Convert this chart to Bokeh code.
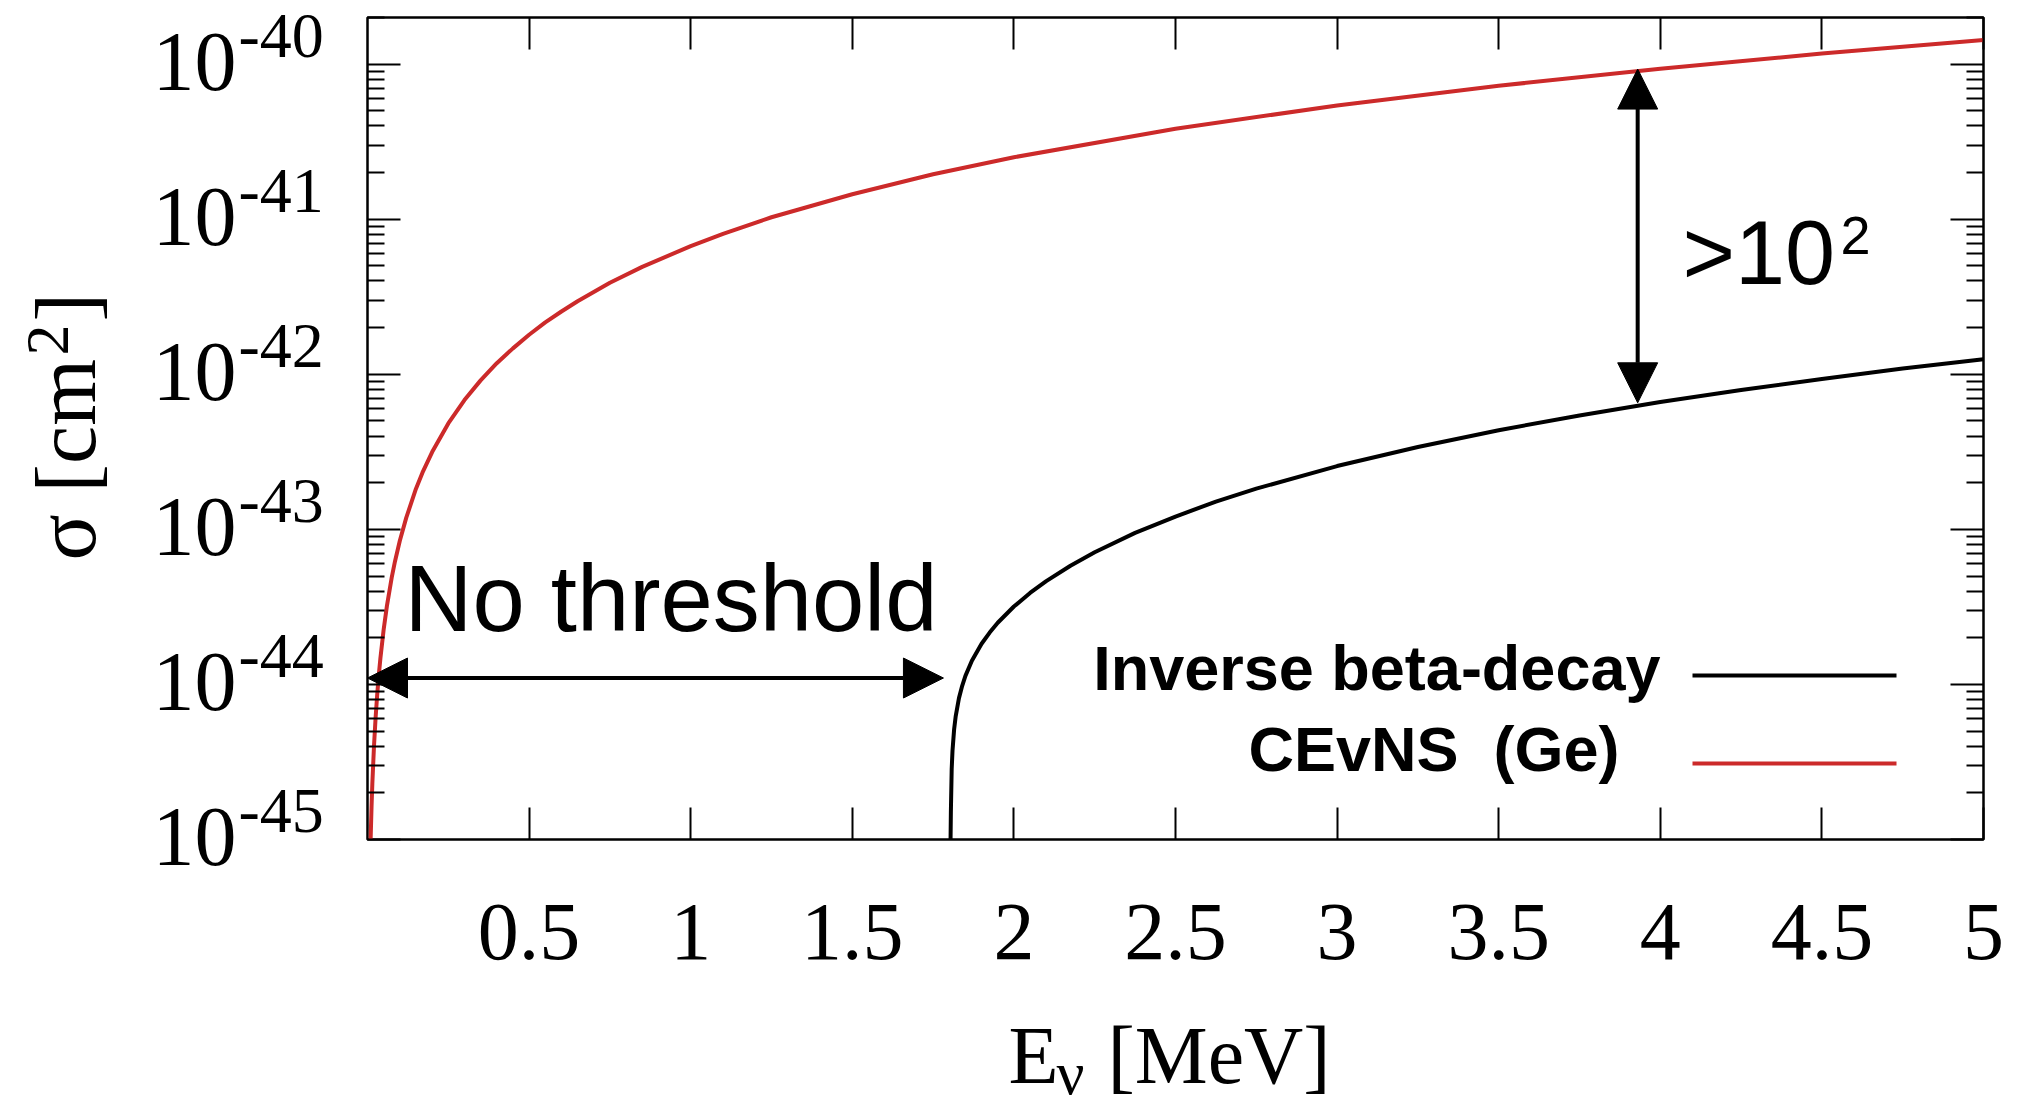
import math

from bokeh.plotting import figure
from bokeh.layouts import row, column
from bokeh.models import (Range1d, FixedTicker, LinearAxis, LogAxis, Label,
                          Arrow, NormalHead, CustomJSTickFormatter)
from bokeh.embed import file_html
from bokeh.resources import INLINE

# ---------------------------------------------------------------- data
# Coherent elastic neutrino-nucleus scattering on germanium
energy_cevns = [0.008, 0.01, 0.0125, 0.015, 0.02, 0.025, 0.03, 0.035, 0.04,
                0.05, 0.06, 0.075, 0.085, 0.1, 0.12, 0.15, 0.17, 0.2, 0.25,
                0.3, 0.35, 0.4, 0.45, 0.5, 0.55, 0.6, 0.65, 0.75, 0.85, 1.0,
                1.1, 1.25, 1.5, 1.75, 2.0, 2.5, 3.0, 3.5, 4.0, 4.5, 5.0]
sigma_cevns = [7.0e-46, 1.06e-45, 1.63e-45, 2.3e-45, 3.97e-45, 6.07e-45,
               8.59e-45, 1.15e-44, 1.48e-44, 2.26e-44, 3.2e-44, 4.9e-44,
               6.21e-44, 8.45e-44, 1.19e-43, 1.83e-43, 2.32e-43, 3.15e-43,
               4.82e-43, 6.82e-43, 9.14e-43, 1.18e-42, 1.47e-42, 1.80e-42,
               2.16e-42, 2.54e-42, 2.96e-42, 3.89e-42, 4.93e-42, 6.71e-42,
               8.05e-42, 1.03e-41, 1.45e-41, 1.95e-41, 2.51e-41, 3.83e-41,
               5.42e-41, 7.26e-41, 9.35e-41, 1.17e-40, 1.43e-40]

# Inverse beta decay (threshold near 1.8 MeV)
energy_ibd = [1.8035, 1.805, 1.8075, 1.81, 1.815, 1.82, 1.83, 1.84, 1.85,
              1.87, 1.9, 1.925, 1.95, 2.0, 2.05, 2.1, 2.175, 2.25, 2.375,
              2.5, 2.625, 2.75, 3.0, 3.25, 3.5, 3.75, 4.0, 4.25, 4.5, 4.75,
              5.0]
sigma_ibd = [8.0e-46, 1.51e-45, 2.84e-45, 3.73e-45, 5.12e-45, 6.25e-45,
             8.16e-45, 9.8e-45, 1.136e-44, 1.42e-44, 1.83e-44, 2.16e-44,
             2.5e-44, 3.18e-44, 3.89e-44, 4.64e-44, 5.83e-44, 7.12e-44,
             9.49e-44, 1.21e-43, 1.51e-43, 1.83e-43, 2.56e-43, 3.40e-43,
             4.36e-43, 5.43e-43, 6.62e-43, 7.92e-43, 9.34e-43, 1.09e-42,
             1.25e-42]

# gap marked between the two curves
gap_energy = 3.93
gap_sigma_top = 9.3e-41
gap_sigma_bottom = 6.55e-43

# energy span with no threshold
threshold_arrow_energy = [0.0, 1.782]
threshold_arrow_sigma = 1.1e-44

x_ticks = [0.5, 1.0, 1.5, 2.0, 2.5, 3.0, 3.5, 4.0, 4.5, 5.0]
x_tick_labels = ["0.5", "1", "1.5", "2", "2.5", "3", "3.5", "4", "4.5", "5"]
y_ticks = [1e-40, 1e-41, 1e-42, 1e-43, 1e-44, 1e-45]
y_tick_exponents = ["-40", "-41", "-42", "-43", "-44", "-45"]

legend_names = ["Inverse beta-decay", "CEvNS \u00a0(Ge)"]

# ---------------------------------------------------------------- layout
W, H = 2018, 1110
SIDE_W = 364            # left strip: y tick labels and y title
MAIN_H = 1000           # upper row height; the x title strip sits below
LEFT, RIGHT, TOP, BOTTOM = 367, 1983, 17, 839   # plot frame on the page
X_MIN, X_MAX = 0.0, 5.0
Y_MIN, Y_MAX = 1e-45, 2e-40
LOG_LO, LOG_HI = math.log10(Y_MIN), math.log10(Y_MAX)
BASELINE_SHIFT = 0.36   # Label baseline sits this many em below its anchor

RED = "#cc2a2a"
SERIF = "Liberation Serif"
SANS = "Liberation Sans"
CURVE_W = 4


def data_x(px):
    return X_MIN + (px - LEFT) / (RIGHT - LEFT) * (X_MAX - X_MIN)


def data_y(py):
    return 10 ** (LOG_LO + (BOTTOM - py) / (BOTTOM - TOP) * (LOG_HI - LOG_LO))


def screen_y(v):
    return BOTTOM - (math.log10(v) - LOG_LO) / (LOG_HI - LOG_LO) * (BOTTOM - TOP)


def blank_canvas(fig):
    fig.background_fill_color = "white"
    fig.border_fill_color = "white"
    fig.outline_line_color = None
    fig.grid.visible = False


def free_frame(fig):
    # keep each figure's frame where its own borders put it
    if "frame_align" in fig.properties():
        fig.frame_align = False


# ---------------------------------------------------------------- main plot
p = figure(width=W - SIDE_W, height=MAIN_H,
           x_range=Range1d(X_MIN, X_MAX), y_range=Range1d(Y_MIN, Y_MAX),
           y_axis_type="log", output_backend="svg", toolbar_location=None,
           min_border_left=LEFT - SIDE_W, min_border_right=W - RIGHT,
           min_border_top=TOP, min_border_bottom=MAIN_H - BOTTOM)
p.background_fill_color = "white"
p.border_fill_color = "white"
p.outline_line_color = "black"
p.outline_line_width = 2.5
p.xgrid.visible = False
p.ygrid.visible = False
free_frame(p)

x_ticker = FixedTicker(ticks=x_ticks, minor_ticks=[])
y_minor = [m * 10.0 ** e for e in range(-46, -39) for m in range(2, 10)]
y_ticker = FixedTicker(ticks=y_ticks, minor_ticks=y_minor)

x_formatter = CustomJSTickFormatter(
    args=dict(tick_values=x_ticks, tick_texts=x_tick_labels),
    code="""
for (let i = 0; i < tick_values.length; i++) {
  if (Math.abs(tick_values[i] - tick) < 1e-9) return tick_texts[i];
}
return "";
""")
blank = CustomJSTickFormatter(code="return '';")


def style_axis(ax, ticker, major_in, minor_in):
    ax.ticker = ticker
    ax.axis_line_color = None
    ax.major_tick_in = major_in
    ax.major_tick_out = 0
    ax.minor_tick_in = minor_in
    ax.minor_tick_out = 0
    ax.major_tick_line_color = "black"
    ax.minor_tick_line_color = "black"
    ax.major_tick_line_width = 2
    ax.minor_tick_line_width = 2


style_axis(p.xaxis[0], x_ticker, 32, 0)
p.xaxis[0].formatter = x_formatter
p.xaxis[0].major_label_text_font = SERIF
p.xaxis[0].major_label_text_font_size = "82px"
p.xaxis[0].major_label_text_color = "black"
p.xaxis[0].major_label_standoff = 65

style_axis(p.yaxis[0], y_ticker, 33, 17)
p.yaxis[0].formatter = blank
p.yaxis[0].major_label_standoff = 0

top_axis = LinearAxis(formatter=blank, major_label_standoff=0)
style_axis(top_axis, x_ticker, 32, 0)
p.add_layout(top_axis, "above")

right_axis = LogAxis(formatter=blank, major_label_standoff=0)
style_axis(right_axis, y_ticker, 33, 17)
p.add_layout(right_axis, "right")

# curves
p.line(energy_cevns, sigma_cevns, line_color=RED, line_width=CURVE_W)
p.line(energy_ibd, sigma_ibd, line_color="black", line_width=CURVE_W)

# arrows
p.add_layout(Arrow(
    start=NormalHead(size=40, fill_color="black", line_color="black"),
    end=NormalHead(size=40, fill_color="black", line_color="black"),
    x_start=threshold_arrow_energy[0], y_start=threshold_arrow_sigma,
    x_end=threshold_arrow_energy[1], y_end=threshold_arrow_sigma,
    line_color="black", line_width=4))

p.add_layout(Arrow(
    start=NormalHead(size=40, fill_color="black", line_color="black"),
    end=NormalHead(size=40, fill_color="black", line_color="black"),
    x_start=gap_energy, y_start=gap_sigma_bottom,
    x_end=gap_energy, y_end=gap_sigma_top,
    line_color="black", line_width=4))


def label(fig, x, y, text, font, size, align="left", bold=False, angle=0.0):
    fig.add_layout(Label(x=x, y=y, text=text,
                         text_font=font, text_font_size=f"{size}px",
                         text_align=align, text_baseline="alphabetic",
                         text_font_style="bold" if bold else "normal",
                         text_color="black", angle=angle))


def page_label(fig, px, py, text, font, size, **kw):
    """Text anchored at its baseline, given in page pixels (main mapping)."""
    label(fig, data_x(px), data_y(py - BASELINE_SHIFT * size), text, font,
          size, **kw)


page_label(p, 404, 632, "No threshold", SANS, 94)
page_label(p, 1682, 285, ">10", SANS, 90)
page_label(p, 1840, 254, "2", SANS, 54)

# legend
page_label(p, 1660, 690, legend_names[0], SANS, 63, align="right", bold=True)
page_label(p, 1619, 771, legend_names[1], SANS, 63, align="right", bold=True)
p.line([data_x(1692), data_x(1896)], [data_y(675), data_y(675)],
       line_color="black", line_width=CURVE_W)
p.line([data_x(1692), data_x(1896)], [data_y(763), data_y(763)],
       line_color=RED, line_width=CURVE_W)

# ---------------------------------------------------------------- left strip
side = figure(width=SIDE_W, height=MAIN_H,
              x_range=Range1d(0, SIDE_W),
              y_range=Range1d(data_y(MAIN_H), data_y(0)),
              y_axis_type="log", x_axis_location=None, y_axis_location=None,
              output_backend="svg", toolbar_location=None,
              min_border_left=0, min_border_right=0,
              min_border_top=0, min_border_bottom=0)
blank_canvas(side)
free_frame(side)

for tick, expo in zip(y_ticks, y_tick_exponents):
    ty = screen_y(tick)
    label(side, 236, data_y(ty + 28 - BASELINE_SHIFT * 84), "10", SERIF, 84,
          align="right")
    label(side, 238, data_y(ty - 5 - BASELINE_SHIFT * 64), expo, SERIF, 64)

# y title, rotated; its baseline runs vertically at x = 96
for text, x_base, y_start, size in [("σ [cm", 96, 560, 86),
                                    ("2", 70, 355, 62),
                                    ("]", 96, 321, 86)]:
    label(side, x_base - BASELINE_SHIFT * size, data_y(y_start), text, SERIF,
          size, angle=math.pi / 2)

# ---------------------------------------------------------------- bottom strip
BOT_H = H - MAIN_H
under = figure(width=W, height=BOT_H,
               x_range=Range1d(data_x(0), data_x(W)),
               y_range=Range1d(BOT_H, 0),
               x_axis_location=None, y_axis_location=None,
               output_backend="svg", toolbar_location=None,
               min_border_left=0, min_border_right=0,
               min_border_top=0, min_border_bottom=0)
blank_canvas(under)
free_frame(under)

for text, px, py, size in [("E", 1008, 1085, 82),
                           ("ν", 1056, 1095, 62),
                           ("[MeV]", 1107, 1085, 82)]:
    label(under, data_x(px), py - MAIN_H - BASELINE_SHIFT * size, text,
          SERIF, size)

page = column(row(side, p), under)
open("out.html", "w").write(file_html(page, INLINE))
